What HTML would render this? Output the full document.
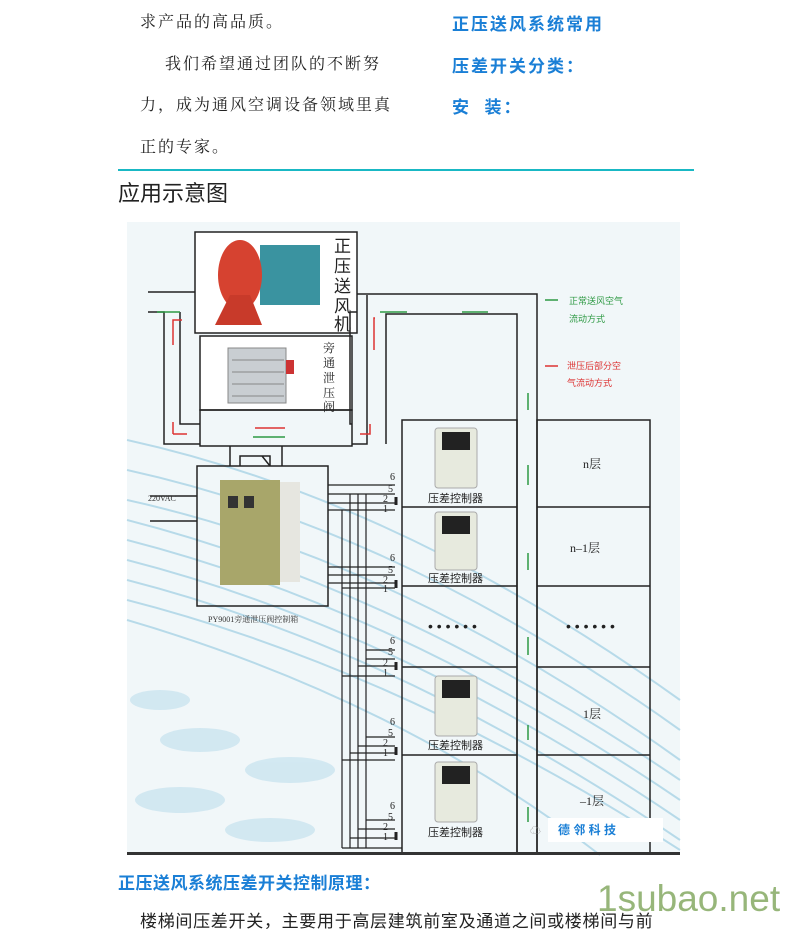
<!DOCTYPE html>
<html><head><meta charset="utf-8"><style>
body{margin:0;width:795px;height:941px;background:#fff;overflow:hidden;position:relative;font-family:"Liberation Serif","Noto Serif CJK SC",serif}
.t{position:absolute;font-size:16px;color:#222;white-space:nowrap;letter-spacing:2px}
.b{position:absolute;font-family:"Liberation Sans","Noto Sans CJK SC",sans-serif;font-weight:bold;color:#1a7fd6;font-size:17px;white-space:nowrap;letter-spacing:2px}
</style></head><body>
<div class="t" style="left:140px;top:9px">求产品的高品质。</div>
<div class="t" style="left:165px;top:51px">我们希望通过团队的不断努</div>
<div class="t" style="left:140px;top:92px">力，成为通风空调设备领域里真</div>
<div class="t" style="left:140px;top:134px">正的专家。</div>
<div class="b" style="left:452px;top:10px">正压送风系统常用</div>
<div class="b" style="left:452px;top:52px">压差开关分类：</div>
<div class="b" style="left:452px;top:93px">安&nbsp;&nbsp;装：</div>
<div style="position:absolute;left:118px;top:169px;width:576px;height:2px;background:#19b8c4"></div>
<div style="position:absolute;left:118px;top:176px;font-family:'Liberation Sans','Noto Sans CJK SC',sans-serif;font-size:22px;color:#222">应用示意图</div>

<svg style="position:absolute;left:0;top:0" width="795" height="941" font-family="Liberation Serif,Noto Serif CJK SC,serif">
<rect x="127" y="222" width="553" height="633" fill="#f1f7f9"/>
<g fill="none" stroke="#a9d4e6" stroke-width="2" opacity="0.8">
<path d="M127 500 Q400 560 680 760"/><path d="M127 520 Q400 590 680 780"/><path d="M127 540 Q400 610 680 800"/>
<path d="M127 560 Q400 630 680 820"/><path d="M127 580 Q400 650 680 840"/><path d="M127 600 Q400 670 680 850"/>
<path d="M127 620 Q400 700 600 855"/><path d="M127 470 Q400 530 680 730"/><path d="M127 440 Q400 500 680 700"/>
</g>
<g fill="#c6e2ef" opacity="0.7">
<ellipse cx="200" cy="740" rx="40" ry="12"/><ellipse cx="290" cy="770" rx="45" ry="13"/><ellipse cx="180" cy="800" rx="45" ry="13"/><ellipse cx="270" cy="830" rx="45" ry="12"/><ellipse cx="160" cy="700" rx="30" ry="10"/>
</g>
<g fill="none" stroke="#222" stroke-width="1.5">
<rect x="195" y="232" width="162" height="101" fill="#fff"/>
<rect x="200" y="336" width="152" height="74" fill="#fff"/>
<rect x="200" y="410" width="152" height="36"/>
<path d="M148 292H195M148 312H164V444H200M180 312V424H200M352 424H350V312H357M367 295V444H352M357 294H537V853M386 444V314H517V853"/>
<path d="M230 446V466M282 446V466M240 466V456H262L270 466M255 456H270V466"/>
<rect x="197" y="466" width="131" height="140"/>
<path d="M150 496H197M150 521H197"/>
<rect x="402" y="420" width="115" height="433"/>
<rect x="537" y="420" width="113" height="433"/>
<path d="M402 507H517M402 586H517M402 667H517M402 755H517M537 507H650M537 586H650M537 667H650M537 755H650"/>
<path d="M342 510V848M350 494V848M358 494V848M366 494V848" stroke-width="1.2"/>
<path d="M328 485H395M328 494H395M328 503H395M328 510H395M328 567H395M328 575H395M328 583H395M342 588H395" stroke-width="1.2"/>
<path d="M366 650H395M366 659H395M358 666H395M342 676H395M366 737H395M358 746H395M350 753H395M342 760H395M366 820H395M358 829H395M350 838H395M342 848H402" stroke-width="1.2"/>
<path d="M396 497V505M396 580V588M396 662V670M396 747V755M396 832V840" stroke-width="3"/>
</g>
<g font-size="10" fill="#222">
<text x="390" y="480">6</text><text x="388" y="492">5</text><text x="383" y="502">2</text><text x="383" y="512">1</text>
<text x="390" y="561">6</text><text x="388" y="573">5</text><text x="383" y="583">2</text><text x="383" y="592">1</text>
<text x="390" y="644">6</text><text x="388" y="655">5</text><text x="383" y="666">2</text><text x="383" y="676">1</text>
<text x="390" y="725">6</text><text x="388" y="736">5</text><text x="383" y="746">2</text><text x="383" y="756">1</text>
<text x="390" y="809">6</text><text x="388" y="820">5</text><text x="383" y="830">2</text><text x="383" y="840">1</text>
</g>
<rect x="260" y="245" width="60" height="60" fill="#3a93a0"/>
<ellipse cx="240" cy="275" rx="22" ry="35" fill="#d64230"/>
<path d="M230 295L215 325H262L250 295Z" fill="#c83a2a"/>
<rect x="228" y="348" width="58" height="55" fill="#c9ced2" stroke="#888"/>
<g stroke="#888"><path d="M232 360H284M232 372H284M232 384H284M232 396H284"/></g>
<rect x="286" y="360" width="8" height="14" fill="#c33"/>
<g font-size="17" fill="#222" font-family="Liberation Sans,Noto Sans CJK SC,sans-serif">
<text x="334" y="252">正</text><text x="334" y="272">压</text><text x="334" y="292">送</text><text x="334" y="312">风</text><text x="334" y="330">机</text>
</g>
<g font-size="12" fill="#222"><text x="323" y="352">旁</text><text x="323" y="367">通</text><text x="323" y="382">泄</text><text x="323" y="397">压</text><text x="323" y="411">阀</text></g>
<rect x="220" y="480" width="60" height="105" fill="#a8a66a"/><rect x="280" y="482" width="20" height="100" fill="#e6e6e0"/>
<rect x="228" y="496" width="10" height="12" fill="#333"/><rect x="244" y="496" width="10" height="12" fill="#333"/>
<text x="148" y="501" font-size="8" fill="#333">220VAC</text>
<text x="208" y="622" font-size="8" fill="#333">PY9001旁通泄压阀控制箱</text>
<g>
<rect x="435" y="428" width="42" height="60" rx="3" fill="#e7eade" stroke="#aaa"/><rect x="442" y="432" width="28" height="18" fill="#222"/>
<rect x="435" y="512" width="42" height="58" rx="3" fill="#e7eade" stroke="#aaa"/><rect x="442" y="516" width="28" height="18" fill="#222"/>
<rect x="435" y="676" width="42" height="60" rx="3" fill="#e7eade" stroke="#aaa"/><rect x="442" y="680" width="28" height="18" fill="#222"/>
<rect x="435" y="762" width="42" height="60" rx="3" fill="#e7eade" stroke="#aaa"/><rect x="442" y="766" width="28" height="18" fill="#222"/>
</g>
<g font-size="11" fill="#222" font-family="Liberation Sans,Noto Sans CJK SC,sans-serif">
<text x="428" y="502">压差控制器</text><text x="428" y="582">压差控制器</text><text x="428" y="749">压差控制器</text><text x="428" y="836">压差控制器</text>
<text x="428" y="631" font-size="14">• • • • • •</text><text x="566" y="631" font-size="14">• • • • • •</text>
</g>
<g font-size="12" fill="#222"><text x="583" y="468">n层</text><text x="570" y="552">n–1层</text><text x="583" y="718">1层</text><text x="580" y="805">–1层</text></g>
<g stroke="#2e9a44" stroke-width="1.5"><path d="M157 312H180M380 312H407M462 312H488M528 393V410M528 465V485M528 553V570M528 637V655M528 725V740M528 807V822M253 437H285M545 300H558"/></g>
<g stroke="#d33" stroke-width="1.5" fill="none"><path d="M173 345V320H182M375 318H374V350M173 434V422M173 434H187M370 424V434H360M255 428H285M545 366H558"/></g>
<g font-size="9" font-family="Liberation Sans,Noto Sans CJK SC,sans-serif"><text x="569" y="304" fill="#2e9a44">正常送风空气</text><text x="569" y="322" fill="#2e9a44">流动方式</text>
<text x="567" y="369" fill="#d33">泄压后部分空</text><text x="567" y="386" fill="#d33">气流动方式</text></g>
<rect x="548" y="818" width="115" height="24" fill="#fff"/>
<text x="558" y="834" font-size="12" font-weight="bold" fill="#1a7fd6" font-family="Liberation Sans,Noto Sans CJK SC,sans-serif">德 邻 科 技</text>
<text x="530" y="834" font-size="11" fill="#999">☁</text>
<rect x="127" y="852" width="553" height="3" fill="#333"/>
</svg>
<div class="b" style="left:118px;top:869px;letter-spacing:0.5px">正压送风系统压差开关控制原理：</div>
<div class="t" style="left:140px;top:907px;font-family:'Liberation Sans','Noto Sans CJK SC',sans-serif;font-size:17px;letter-spacing:0.7px">楼梯间压差开关，主要用于高层建筑前室及通道之间或楼梯间与前</div>
<div style="position:absolute;left:597px;top:878px;font-family:'Liberation Sans',sans-serif;font-size:37px;color:#7ea55a;opacity:.8">1subao.net</div>
</body></html>
